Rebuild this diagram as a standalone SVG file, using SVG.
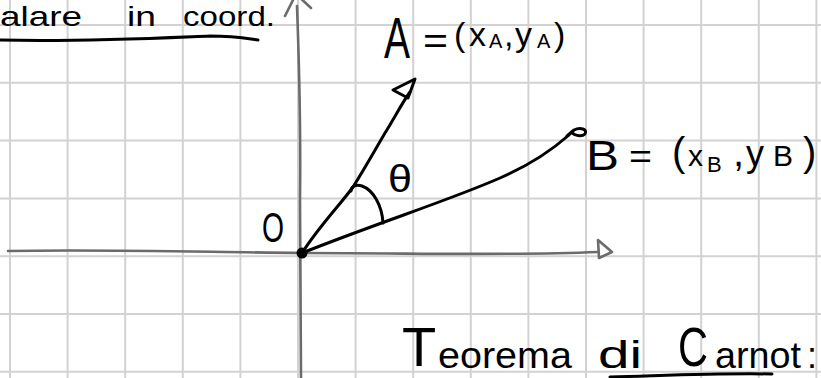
<svg xmlns="http://www.w3.org/2000/svg" width="821" height="378" viewBox="0 0 821 378">
<style>
.grid{stroke:#d2d2d2;stroke-width:2;fill:none}
.axis{stroke:#6b6b6b;stroke-width:2.6;fill:none;stroke-linecap:round;stroke-linejoin:round}
.ink{stroke:#000;stroke-width:3;fill:none;stroke-linecap:round;stroke-linejoin:round}
.t{font-family:"Liberation Sans",Arial,sans-serif;fill:#000}
</style>
<rect width="821" height="378" fill="#fff"/>
<g id="grid" class="grid">
<path d="M10,0V378M67.6,0V378M125.2,0V378M182.8,0V378M240.4,0V378M298,0V378M355.6,0V378M413.2,0V378M470.8,0V378M528.4,0V378M586,0V378M643.6,0V378M701.2,0V378M758.8,0V378M816.4,0V378"/>
<path d="M0,25H821M0,82.8H821M0,140.6H821M0,198.4H821M0,256.2H821M0,314H821M0,371.8H821"/>
</g>
<g id="axes" class="axis">
<path d="M297,6 C299,60 301,120 300,200 C300,240 301,300 301,378"/>
<path d="M285,16 L296,-6 L311,8"/>
<path d="M8,251 C100,249 200,252 302,253 C420,253 500,256 598,252"/>
<path d="M598,240 L612,252 L599,258 Z"/>
</g>
<g id="connectors">
<path class="ink" d="M302,253 C320,225 340,205 353,187 C365,168 375,150 385,133 C395,117 402,103 410,92"/>
<path class="ink" d="M393,90 L415,79 L408,98 Z"/>
<path class="ink" d="M302,253 C380,222 450,200 500,178 C530,165 552,150 569,135"/>
<path class="ink" d="M567,136 L574,130 C580,127 588,129 585,134 C582,137 576,136 572,133"/>
<path class="ink" d="M351,191 C351,187 355,184 362,186 C373,190 382,205 383,223"/>
</g>
<g id="origin">
<circle cx="302" cy="253" r="5.5" fill="#000"/>
<text class="t" x="262" y="242" font-size="42" textLength="22" lengthAdjust="spacingAndGlyphs">O</text>
</g>
<g id="theta">
<text class="t" x="388" y="192" font-size="38" textLength="24" lengthAdjust="spacingAndGlyphs">θ</text>
</g>
<g id="labelA" class="t">
<text x="384" y="58" font-size="58" textLength="26" lengthAdjust="spacingAndGlyphs">A</text>
<text x="423" y="53" font-size="36" textLength="25" lengthAdjust="spacingAndGlyphs">=</text>
<text y="46" font-size="34"><tspan x="454">(</tspan><tspan x="469">x</tspan><tspan x="489" y="48" font-size="20">A</tspan><tspan x="504" y="46">,</tspan><tspan x="515">y</tspan><tspan x="537" y="48" font-size="20">A</tspan><tspan x="554" y="46">)</tspan></text>
</g>
<g id="labelB" class="t">
<text x="586" y="170" font-size="42" textLength="33" lengthAdjust="spacingAndGlyphs">B</text>
<text x="629" y="168" font-size="34" textLength="23" lengthAdjust="spacingAndGlyphs">=</text>
<text y="166" font-size="40"><tspan x="672">(</tspan><tspan x="688" font-size="30">x</tspan><tspan x="707" y="172" font-size="22">B</tspan><tspan x="733" y="166">,</tspan><tspan x="746" font-size="36">y</tspan><tspan x="773" font-size="30">B</tspan><tspan x="803">)</tspan></text>
</g>
<g id="heading" class="t">
<text x="0" y="26" font-size="28" textLength="82" lengthAdjust="spacingAndGlyphs">alare</text>
<text x="127" y="26" font-size="28" textLength="29" lengthAdjust="spacingAndGlyphs">in</text>
<text x="183" y="26" font-size="28" textLength="92" lengthAdjust="spacingAndGlyphs">coord.</text>
<path class="ink" d="M0,40 C80,42 160,38 210,36 C235,36 250,39 258,40"/>
</g>
<g id="carnot" class="t">
<text x="402" y="366" font-size="56">T</text>
<text x="438" y="368" font-size="36" textLength="134" lengthAdjust="spacingAndGlyphs">eorema</text>
<text x="598" y="368" font-size="38" textLength="44" lengthAdjust="spacingAndGlyphs">di</text>
<text x="678" y="366" font-size="56" textLength="30" lengthAdjust="spacingAndGlyphs">C</text>
<text x="715" y="368" font-size="36" textLength="86" lengthAdjust="spacingAndGlyphs">arnot</text>
<text x="807" y="368" font-size="36">:</text>
<path class="ink" d="M610,377 C680,375 720,373 772,374"/>
</g>
</svg>
